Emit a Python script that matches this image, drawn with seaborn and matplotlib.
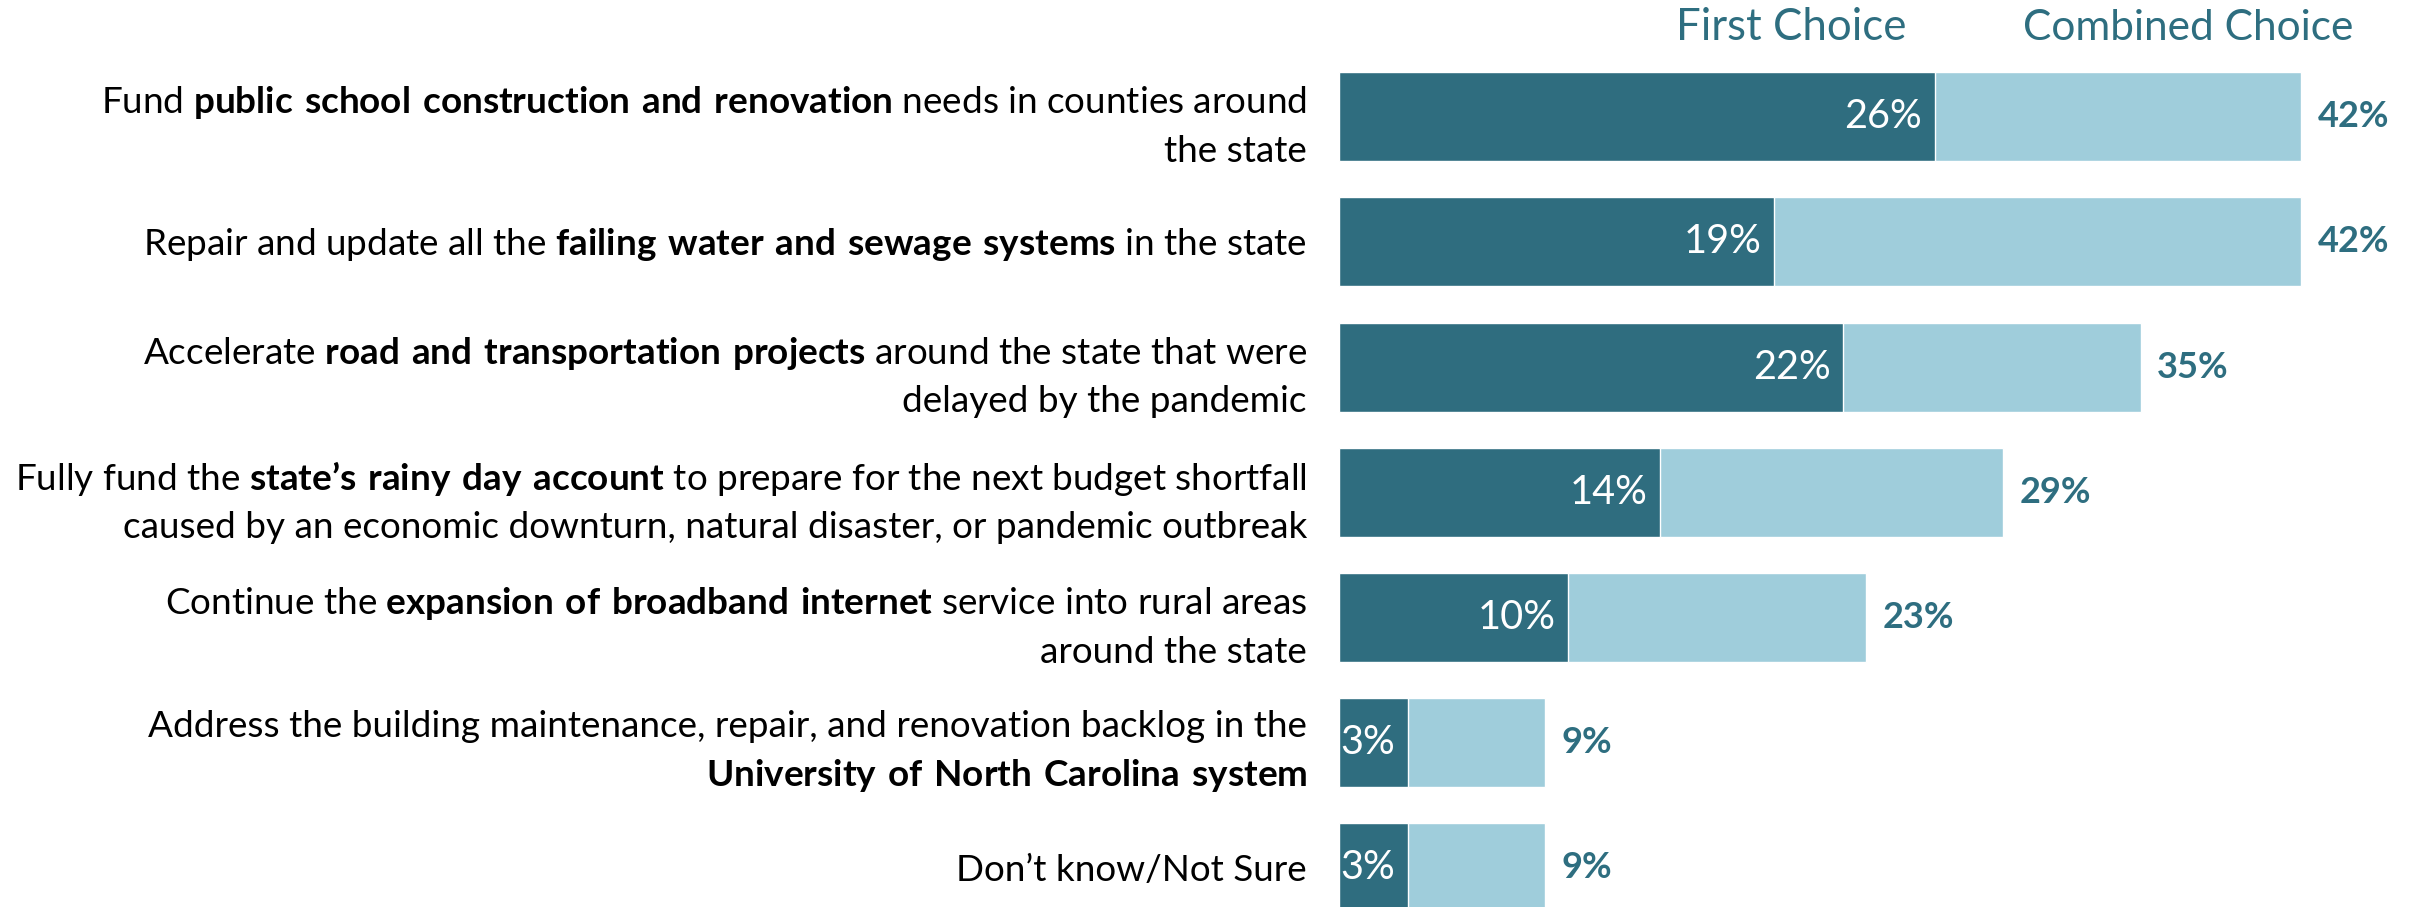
import matplotlib
matplotlib.use("Agg")
import matplotlib.pyplot as plt
import matplotlib.transforms as mtransforms
import pandas as pd
import seaborn as sns

# survey items, top to bottom (bold parts as mathtext)
categories = [
    "Fund $\\mathbf{public\\ school\\ construction\\ and\\ renovation}$ needs in counties around\nthe state",
    "Repair and update all the $\\mathbf{failing\\ water\\ and\\ sewage\\ systems}$ in the state",
    "Accelerate $\\mathbf{road\\ and\\ transportation\\ projects}$ around the state that were\ndelayed by the pandemic",
    "Fully fund the $\\mathbf{state’s\\ rainy\\ day\\ account}$ to prepare for the next budget shortfall\n"
    "caused by an economic downturn, natural disaster, or pandemic outbreak",
    "Continue the $\\mathbf{expansion\\ of\\ broadband\\ internet}$ service into rural areas\naround the state",
    "Address the building maintenance, repair, and renovation backlog in the\n"
    "$\\mathbf{University\\ of\\ North\\ Carolina\\ system}$",
    "Don’t know/Not Sure",
]
first_choice = [26, 19, 22, 14, 10, 3, 3]
combined_choice = [42, 42, 35, 29, 23, 9, 9]

dark = "#2F6D7F"
light = "#9FCDDB"
teal_text = "#2E6E80"

sns.set_theme(style="white")
plt.rcParams["font.family"] = ["Lato", "DejaVu Sans"]
plt.rcParams["mathtext.fontset"] = "custom"
plt.rcParams["mathtext.rm"] = "Lato"
plt.rcParams["mathtext.bf"] = "Lato:bold"

df = pd.DataFrame({
    "item": [f"item{i}" for i in range(len(categories))],
    "first": first_choice,
    "combined": combined_choice,
})

W, H = 2417, 907
fig = plt.figure(figsize=(W / 100, H / 100), dpi=100)

# bars start at x=1339 px, 22.9 px per percent; rows every 125.2 px
x0_px, px_per_pct = 1339.3, 22.9
row0_px, row_px = 116.7, 125.2
ax = fig.add_axes([x0_px / W, 0, 1 - x0_px / W, 1])

sns.barplot(data=df, y="item", x="combined", orient="h", color=light,
            saturation=1, width=0.711, ax=ax)
sns.barplot(data=df, y="item", x="first", orient="h", color=dark,
            saturation=1, width=0.711, ax=ax)

ax.set_xlim(0, (W - x0_px) / px_per_pct)
ax.set_ylim((H - row0_px) / row_px, -row0_px / row_px)
ax.axis("off")

for i, (f, c) in enumerate(zip(first_choice, combined_choice)):
    ax.text(f - 0.55, i, f"{f}%", ha="right", va="center", color="white", fontsize=28.5)
    ax.text(c + 0.72, i, f"{c}%", ha="left", va="center", color=teal_text,
            fontsize=26, fontweight="bold")

# row labels, right aligned left of the bars (two-line blocks sit a bit low)
trans = mtransforms.blended_transform_factory(fig.transFigure, ax.transData)
for i, lab in enumerate(categories):
    dy = 0.075 if "\n" in lab else 0.02
    fig.text(1307 / W, i + dy, lab, transform=trans, ha="right", va="center",
             multialignment="right", fontsize=26.6, color="black", linespacing=1.5)

# column headers
fig.text(1791 / W, 1 - 28 / H, "First Choice", ha="center", va="center",
         color=teal_text, fontsize=31.5)
fig.text(2188 / W, 1 - 28 / H, "Combined Choice", ha="center", va="center",
         color=teal_text, fontsize=30.5)

fig.savefig("out.png", dpi=100)
